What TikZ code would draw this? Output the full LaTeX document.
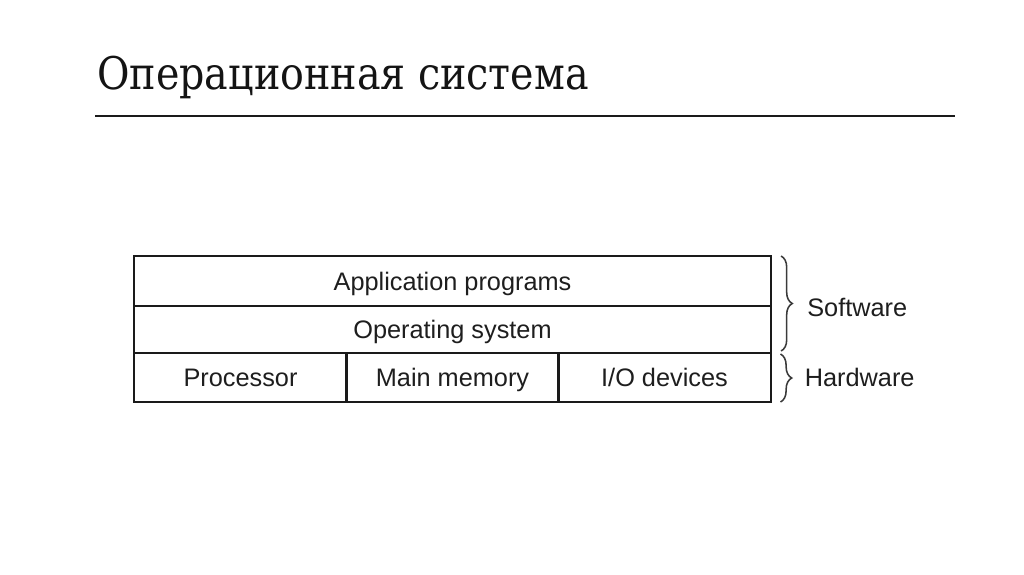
\documentclass[tikz,border=0pt]{standalone}
\usepackage{fontspec}
\setmainfont{DejaVu Serif}[FakeStretch=0.88]
\newfontfamily\labelfont{Liberation Sans}
\usepackage{xcolor}
\usepackage{tikz}
\usetikzlibrary{positioning,decorations.pathreplacing}
\definecolor{OSLine}{HTML}{1A1A1A}
\definecolor{OSText}{HTML}{1E1E1E}
\definecolor{OSBrace}{HTML}{3A3A3A}

\begin{document}
\begin{tikzpicture}[x=0.025cm,y=-0.025cm,
  layer/.style={draw=OSLine,line width=1.4pt,inner sep=0pt,minimum width=15.925cm,font=\labelfont\fontsize{18}{20}\selectfont,text=OSText,text height=12.9pt,text depth=0pt},
  cell/.style={layer,minimum width=5.3cm,minimum height=1.225cm},
  tag/.style={font=\labelfont\fontsize{18}{20}\selectfont,text=OSText,inner sep=0pt,anchor=west,text height=12.9pt,text depth=0pt},
  bracket/.style={draw=OSBrace,line width=1.1pt,decorate,decoration={brace,amplitude=0.28cm}}]
\useasboundingbox (0,0) rectangle (1024,574);

\node[anchor=base west,font=\fontsize{32}{38}\selectfont,text=black!92,inner sep=0pt] (title) at (97,89) {Операционная система};
\draw[OSLine,line width=1pt] (95,116) -- (955,116);

\node[layer,minimum height=1.25cm] (app) at (452.5,281) {Application programs};
\node[layer,minimum height=1.175cm] (os) at (452.5,329.5) {Operating system};
\foreach \x/\lab/\nm in {240.5/Processor/hw1,452.5/Main memory/hw2,664.5/{I/O devices}/hw3} {
  \node[cell] (\nm) at (\x,377.5) {\lab};
}

\draw[bracket] ([shift={(9,1)}]app.north east) -- ([shift={(9,-3)}]os.south east);
\draw[bracket] ([shift={(9,2)}]hw3.north east) -- ([shift={(9,-1)}]hw3.south east);
\node[tag] (sw) at ([shift={(35,0)}]app.south east) {Software};
\node[tag] (hw) at ([shift={(33,0)}]hw3.east) {Hardware};
\end{tikzpicture}
\end{document}
